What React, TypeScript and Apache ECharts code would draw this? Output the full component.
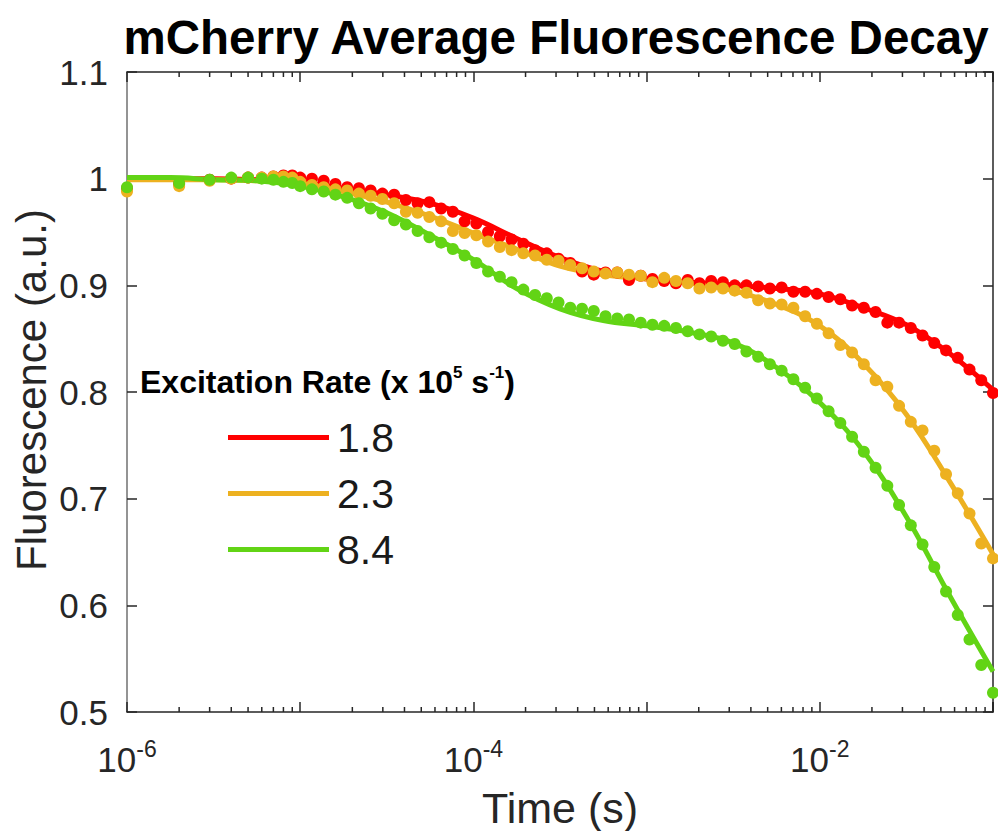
import React, { useEffect, useRef } from "react";
import * as echarts from "echarts";

// Sampling times of the measured points (s)
const times: number[] = [
  1e-6, 2e-6, 3e-6, 4e-6, 5e-6, 6e-6, 7e-6, 8e-6, 9e-6,
  1.0e-5, 1.169e-5, 1.367e-5, 1.597e-5, 1.867e-5, 2.183e-5, 2.551e-5, 2.983e-5, 3.487e-5, 4.076e-5,
  4.764e-5, 5.569e-5, 6.51e-5, 7.61e-5, 8.896e-5,
  1.04e-4, 1.215e-4, 1.421e-4, 1.661e-4, 1.942e-4, 2.27e-4, 2.653e-4, 3.101e-4, 3.625e-4, 4.238e-4,
  4.954e-4, 5.791e-4, 6.769e-4, 7.913e-4, 9.25e-4,
  1.081e-3, 1.264e-3, 1.477e-3, 1.727e-3, 2.019e-3, 2.36e-3, 2.759e-3, 3.225e-3, 3.77e-3, 4.407e-3,
  5.151e-3, 6.022e-3, 7.039e-3, 8.228e-3, 9.618e-3,
  1.124e-2, 1.314e-2, 1.536e-2, 1.796e-2, 2.099e-2, 2.454e-2, 2.868e-2, 3.353e-2, 3.919e-2, 4.581e-2,
  5.356e-2, 6.26e-2, 7.318e-2, 8.555e-2, 1.0e-1,
];

const red18: number[] = [
  0.991, 0.995, 0.999, 1.0, 1.001, 1.001, 1.002, 1.003, 1.003,
  1.001, 1.0, 0.998, 0.995, 0.992, 0.991, 0.989, 0.986, 0.985, 0.98, 0.977, 0.978, 0.972, 0.969, 0.96,
  0.958, 0.95, 0.946, 0.943, 0.939, 0.933, 0.93, 0.925, 0.921, 0.913, 0.91, 0.912, 0.912, 0.905, 0.909,
  0.906, 0.904, 0.902, 0.905, 0.902, 0.904, 0.903, 0.9, 0.9, 0.899, 0.897, 0.898, 0.894, 0.894, 0.892,
  0.889, 0.887, 0.881, 0.879, 0.875, 0.865, 0.865, 0.86, 0.853, 0.846, 0.839, 0.832, 0.821, 0.811, 0.799,
];

const orange23: number[] = [
  0.988, 0.993, 0.998, 1.0, 1.001, 1.001, 1.002, 1.002, 1.001,
  0.997, 0.994, 0.992, 0.99, 0.989, 0.986, 0.984, 0.981, 0.977, 0.969, 0.968, 0.964, 0.96, 0.951, 0.949,
  0.947, 0.941, 0.936, 0.933, 0.93, 0.928, 0.924, 0.923, 0.919, 0.916, 0.913, 0.911, 0.912, 0.91, 0.909,
  0.903, 0.907, 0.904, 0.902, 0.897, 0.898, 0.897, 0.895, 0.893, 0.886, 0.883, 0.882, 0.879, 0.871, 0.864,
  0.855, 0.844, 0.837, 0.826, 0.811, 0.805, 0.787, 0.772, 0.764, 0.745, 0.723, 0.705, 0.686, 0.658, 0.644,
];

const green84: number[] = [
  0.992, 0.996, 0.999, 1.001, 1.001, 1.0, 0.999, 0.997, 0.996,
  0.993, 0.99, 0.988, 0.985, 0.982, 0.977, 0.972, 0.967, 0.961, 0.957, 0.951, 0.945, 0.94, 0.934, 0.928,
  0.921, 0.913, 0.908, 0.903, 0.896, 0.891, 0.888, 0.884, 0.879, 0.878, 0.876, 0.871, 0.869, 0.868, 0.865,
  0.863, 0.862, 0.86, 0.857, 0.854, 0.852, 0.848, 0.845, 0.838, 0.833, 0.826, 0.82, 0.812, 0.804, 0.794,
  0.782, 0.771, 0.758, 0.744, 0.729, 0.712, 0.694, 0.675, 0.657, 0.636, 0.613, 0.591, 0.568, 0.544, 0.518,
];

// Fitted curves, sampled every quarter decade
const fitTimes: number[] = [
  1e-6, 1.778e-6, 3.162e-6, 5.623e-6, 1e-5, 1.778e-5, 3.162e-5, 5.623e-5, 1e-4, 1.778e-4, 3.162e-4,
  5.623e-4, 1e-3, 1.778e-3, 3.162e-3, 5.623e-3, 1e-2, 1.778e-2, 3.162e-2, 5.623e-2, 1e-1,
];
const redFit: number[] = [
  1.0, 1.0, 1.0, 0.999, 0.997, 0.991, 0.985, 0.977, 0.963, 0.944, 0.926,
  0.913, 0.906, 0.903, 0.9, 0.897, 0.892, 0.879, 0.863, 0.836, 0.802,
];
const orangeFit: number[] = [
  0.999, 0.999, 0.999, 0.998, 0.996, 0.988, 0.978, 0.965, 0.949, 0.934, 0.918,
  0.91, 0.906, 0.902, 0.895, 0.882, 0.862, 0.827, 0.779, 0.716, 0.648,
];
const greenFit: number[] = [
  1.001, 1.001, 0.999, 0.998, 0.993, 0.983, 0.968, 0.947, 0.924, 0.897, 0.878,
  0.867, 0.862, 0.856, 0.846, 0.823, 0.79, 0.745, 0.683, 0.609, 0.538,
];

const seriesNames: string[] = ["1.8", "2.3", "8.4"];
const seriesColors: string[] = ["#FF0000", "#EDB120", "#62D415"];
const xLabelExponents: number[] = [-6, -4, -2];
const yTicks = { min: 0.5, max: 1.1, interval: 0.1 };
const xRange = { min: 1e-6, max: 1e-1 };
const minorTickMultipliers: number[] = [2, 3, 4, 5, 6, 7, 8, 9];
const minorTickDecades: number[] = [-6, -5, -4, -3, -2];

const FONT = '"Liberation Sans", Arial, Helvetica, sans-serif';
const AXIS = "#262626";

export default function App() {
  const ref = useRef<HTMLDivElement>(null);

  useEffect(() => {
    if (!ref.current) return;
    const chart = echarts.init(ref.current, undefined, { renderer: "svg" });

    const minorTicks: number[][] = [];
    minorTickDecades.forEach((d) =>
      minorTickMultipliers.forEach((m) => minorTicks.push([m * Math.pow(10, d), yTicks.min]))
    );

    const dataSets = [red18, orange23, green84];
    const fitSets = [redFit, orangeFit, greenFit];
    const series: any[] = [];
    seriesNames.forEach((name, i) => {
      series.push({
        name: name + " data",
        type: "scatter",
        symbol: "circle",
        symbolSize: 12,
        clip: false,
        itemStyle: { color: seriesColors[i], opacity: 1 },
        data: times.map((t, j) => [t, dataSets[i][j]]),
        z: 2,
      });
      series.push({
        name,
        type: "line",
        smooth: 0.4,
        showSymbol: false,
        clip: false,
        lineStyle: { color: seriesColors[i], width: 5 },
        itemStyle: { color: seriesColors[i] },
        data: fitTimes.map((t, j) => [t, fitSets[i][j]]),
        z: 2,
      });
    });

    series.push({
      name: "minorTicks",
      type: "custom",
      clip: false,
      silent: true,
      z: 5,
      data: minorTicks,
      renderItem: (_p: any, api: any) => {
        const x = api.value(0);
        const pb = api.coord([x, yTicks.min]);
        const pt = api.coord([x, yTicks.max]);
        const st = { stroke: AXIS, lineWidth: 1.5 };
        return {
          type: "group",
          children: [
            { type: "line", shape: { x1: pb[0], y1: pb[1], x2: pb[0], y2: pb[1] - 5 }, style: st },
            { type: "line", shape: { x1: pt[0], y1: pt[1], x2: pt[0], y2: pt[1] + 5 }, style: st },
          ],
        };
      },
    });

    const option: any = {
      animation: false,
      backgroundColor: "#ffffff",
      grid: { left: 127, top: 72, width: 866, height: 640 },
      legend: {
        data: seriesNames,
        orient: "vertical",
        left: 228,
        top: 417,
        padding: 0,
        itemWidth: 101,
        itemHeight: 5,
        itemGap: 15,
        icon: "rect",
        selectedMode: false,
        textStyle: { fontSize: 41, color: "#1a1a1a", fontFamily: FONT, padding: [0, 0, 0, 3] },
      },
      xAxis: [
        {
          type: "log",
          logBase: 10,
          min: xRange.min,
          max: xRange.max,
          position: "bottom",
          splitLine: { show: false },
          axisLine: { show: true, lineStyle: { color: AXIS, width: 1.5 } },
          axisTick: { show: true, inside: true, length: 10, lineStyle: { color: AXIS, width: 1.5 } },
          axisLabel: {
            margin: 25,
            color: AXIS,
            fontFamily: FONT,
            formatter: (v: number) => {
              const e = Math.round(Math.log10(v));
              return xLabelExponents.includes(e) ? `{a|10}{b|${e}}` : "";
            },
            rich: {
              a: { fontSize: 35, fontFamily: FONT, color: AXIS, lineHeight: 44, verticalAlign: "middle" },
              b: { fontSize: 23, fontFamily: FONT, color: AXIS, lineHeight: 44, verticalAlign: "top" },
            },
          },
        },
        {
          type: "log",
          logBase: 10,
          min: xRange.min,
          max: xRange.max,
          position: "top",
          splitLine: { show: false },
          axisLine: { show: true, lineStyle: { color: AXIS, width: 1.5 } },
          axisTick: { show: true, inside: true, length: 10, lineStyle: { color: AXIS, width: 1.5 } },
          axisLabel: { show: false },
        },
      ],
      yAxis: [
        {
          type: "value",
          min: yTicks.min,
          max: yTicks.max,
          interval: yTicks.interval,
          position: "left",
          splitLine: { show: false },
          axisLine: { show: true, lineStyle: { color: "#707070", width: 1.5 } },
          axisTick: { show: true, inside: true, length: 10, lineStyle: { color: AXIS, width: 1.5 } },
          axisLabel: { margin: 19, fontSize: 35, color: AXIS, fontFamily: FONT },
        },
        {
          type: "value",
          min: yTicks.min,
          max: yTicks.max,
          interval: yTicks.interval,
          position: "right",
          splitLine: { show: false },
          axisLine: { show: true, lineStyle: { color: AXIS, width: 1.5 } },
          axisTick: { show: true, inside: true, length: 10, lineStyle: { color: AXIS, width: 1.5 } },
          axisLabel: { show: false },
        },
      ],
      graphic: [
        {
          type: "text",
          x: 556,
          y: 37,
          style: {
            text: "mCherry Average Fluorescence Decay",
            fontSize: 47.5,
            fontWeight: "bold",
            fontFamily: FONT,
            fill: "#000000",
            align: "center",
            verticalAlign: "middle",
          },
        },
        {
          type: "text",
          x: 31,
          y: 390,
          rotation: Math.PI / 2,
          style: {
            text: "Fluorescence (a.u.)",
            fontSize: 42,
            fontFamily: FONT,
            fill: AXIS,
            align: "center",
            verticalAlign: "middle",
          },
        },
        {
          type: "text",
          x: 560,
          y: 808,
          style: {
            text: "Time (s)",
            fontSize: 43,
            fontFamily: FONT,
            fill: AXIS,
            align: "center",
            verticalAlign: "middle",
          },
        },
        {
          type: "text",
          x: 140,
          y: 382,
          z: 10,
          style: {
            text: "{a|Excitation Rate (x 10}{s|5}{a| s}{s|-1}{a|)}",
            fill: "#000000",
            align: "left",
            verticalAlign: "middle",
            rich: {
              a: { fontSize: 32, fontWeight: "bold", fontFamily: FONT, fill: "#000", lineHeight: 36, verticalAlign: "middle" },
              s: { fontSize: 17, fontWeight: "bold", fontFamily: FONT, fill: "#000", lineHeight: 36, verticalAlign: "top" },
            },
          },
        },
      ],
      series,
    };

    chart.setOption(option);
    return () => chart.dispose();
  }, []);

  return (
    <div
      ref={ref}
      style={{ position: "absolute", left: 0, top: 0, width: 998, height: 831, background: "#fff" }}
    />
  );
}
